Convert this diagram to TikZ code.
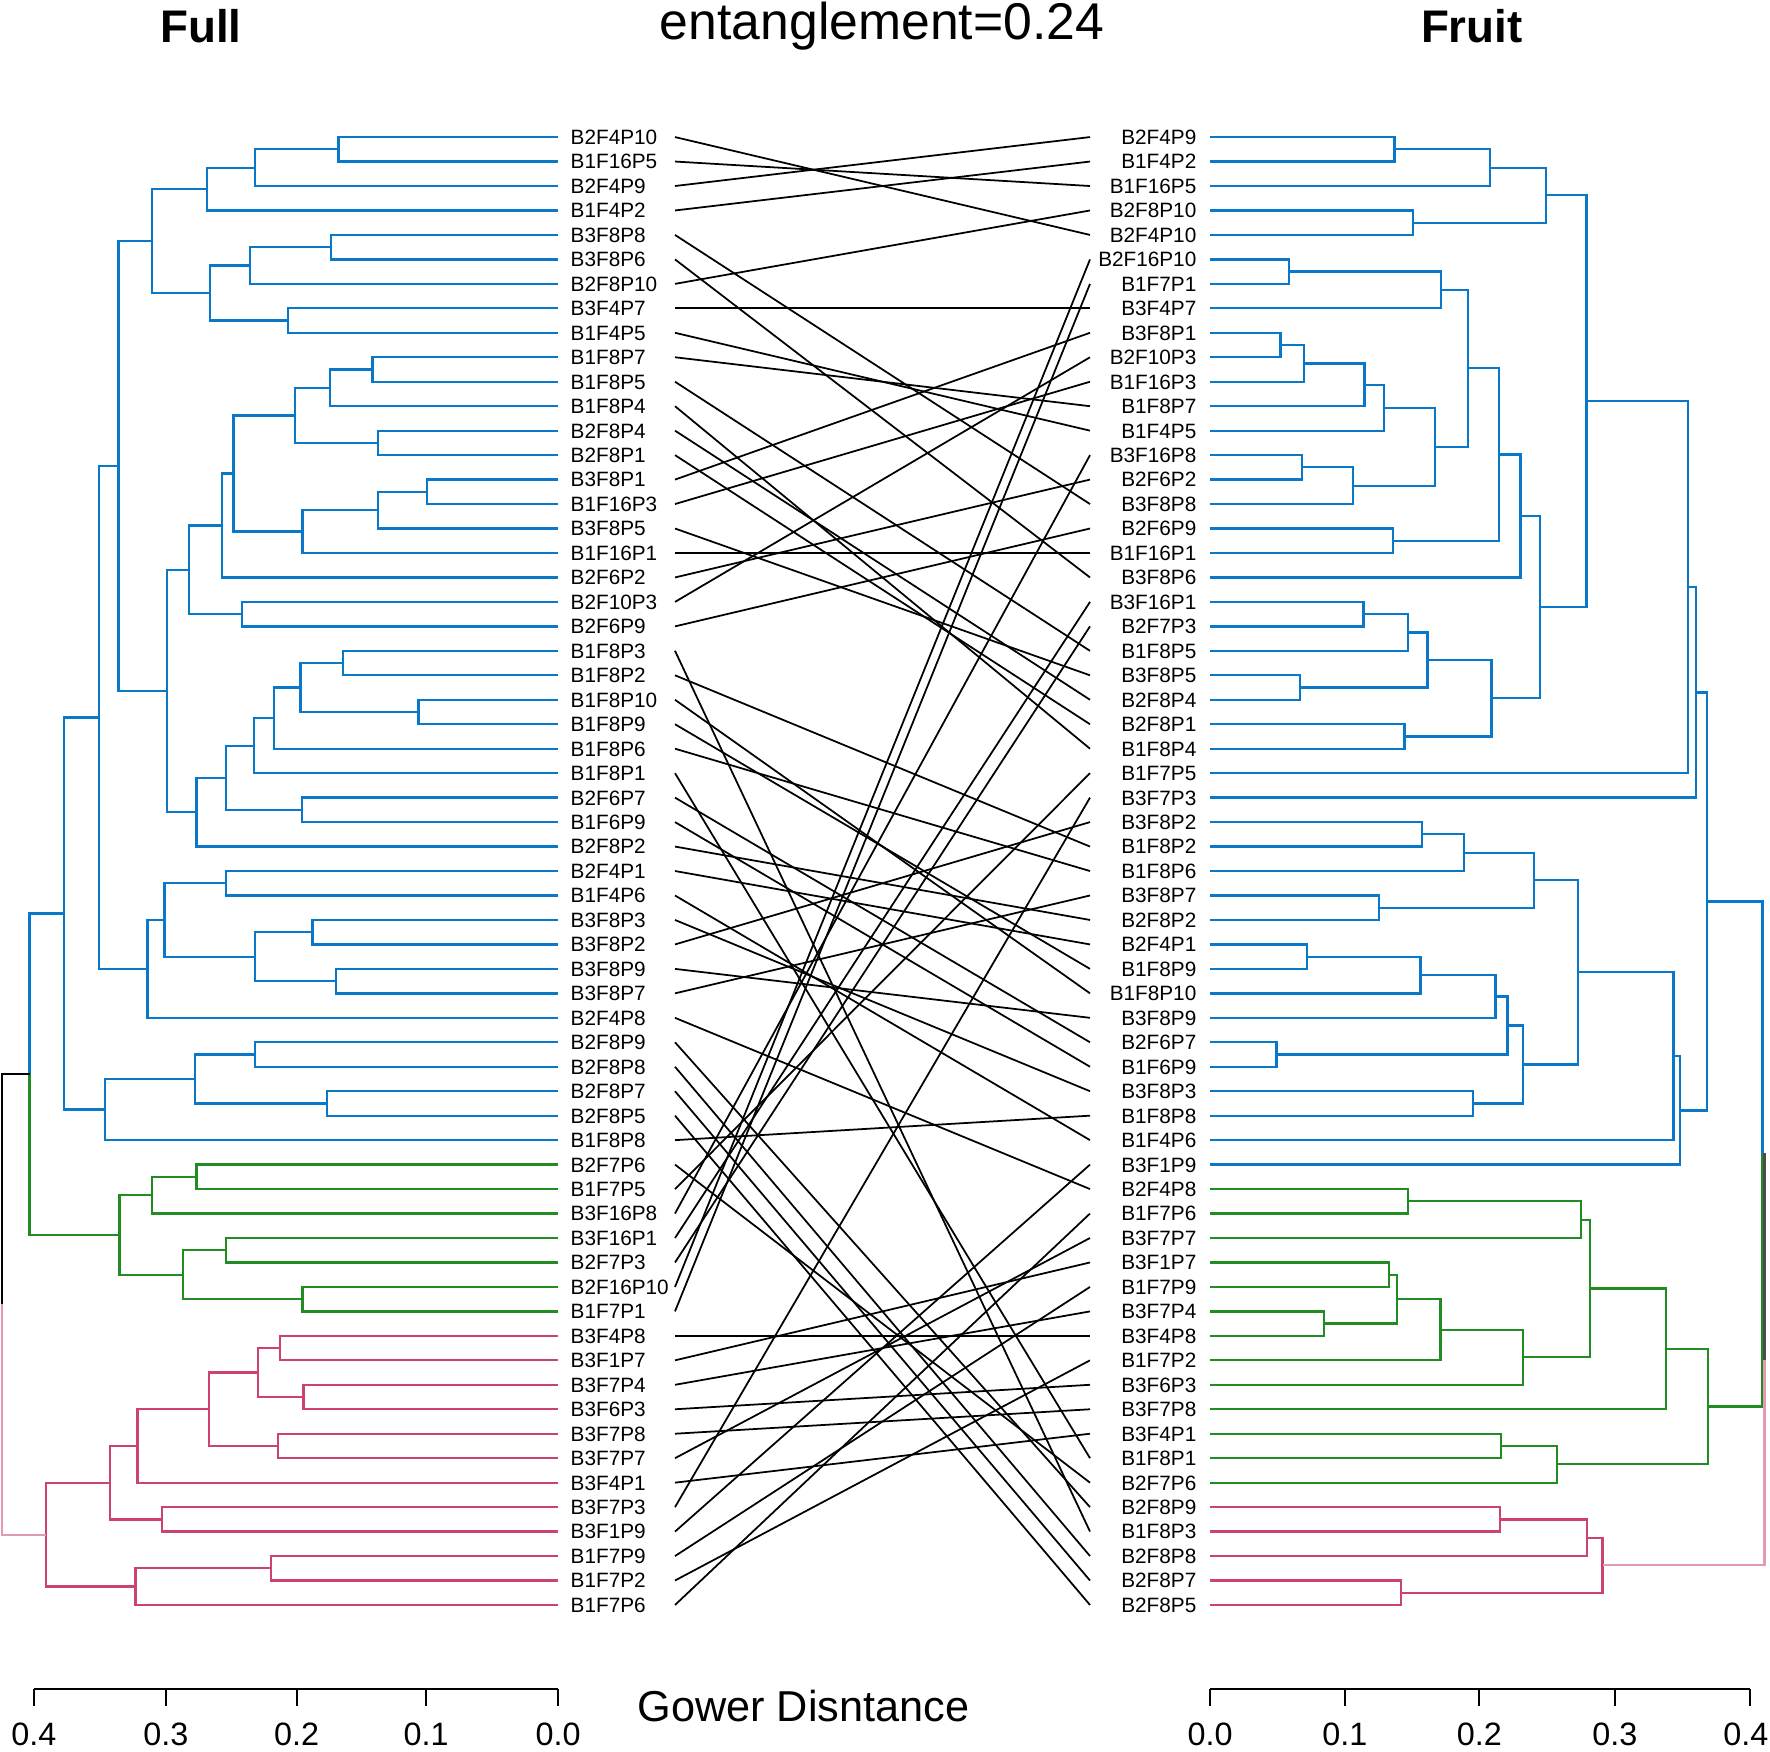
\documentclass[tikz,border=0pt]{standalone}
\usepackage{fontspec}
\setmainfont{Liberation Sans}
\definecolor{dblue}{HTML}{0A78C8}
\definecolor{dgreen}{HTML}{228B22}
\definecolor{dpink}{HTML}{CC446E}
\definecolor{lpink}{HTML}{E39AB0}
\begin{document}
\begin{tikzpicture}[x=0.01cm,y=-0.01cm,
  tree/.style={line width=0.65pt},
  conn/.style={line width=0.5pt,black},
  llab/.style={anchor=west,inner sep=0pt,font=\fontsize{5.9}{7}\selectfont,text height=4.2pt,text depth=0pt},
  rlab/.style={anchor=east,inner sep=0pt,font=\fontsize{5.9}{7}\selectfont,text height=4.2pt,text depth=0pt},
  axis/.style={line width=0.6pt,black},
  ticklab/.style={anchor=base,inner sep=0pt,font=\fontsize{9.2}{11}\selectfont},
  titlelab/.style={anchor=base,inner sep=0pt,font=\fontsize{13}{15}\selectfont\bfseries}]
\useasboundingbox (0,0) rectangle (1770,1752);

% titles
\node[titlelab] (tfull) at (200.9,43) {Full};
\node[titlelab] (tfruit) at (1471.8,43) {Fruit};
\node[anchor=base,inner sep=0pt,font=\fontsize{14.7}{16}\selectfont] (tent) at (882,40) {entanglement=0.24};

\begin{scope}[y=-0.2445cm,yshift=-1.1255cm]
% left labels
\foreach \n [count=\i] in {B2F4P10,B1F16P5,B2F4P9,B1F4P2,B3F8P8,B3F8P6,B2F8P10,B3F4P7,B1F4P5,B1F8P7,B1F8P5,B1F8P4,B2F8P4,B2F8P1,B3F8P1,B1F16P3,B3F8P5,B1F16P1,B2F6P2,B2F10P3,B2F6P9,B1F8P3,B1F8P2,B1F8P10,B1F8P9,B1F8P6,B1F8P1,B2F6P7,B1F6P9,B2F8P2,B2F4P1,B1F4P6,B3F8P3,B3F8P2,B3F8P9,B3F8P7,B2F4P8,B2F8P9,B2F8P8,B2F8P7,B2F8P5,B1F8P8,B2F7P6,B1F7P5,B3F16P8,B3F16P1,B2F7P3,B2F16P10,B1F7P1,B3F4P8,B3F1P7,B3F7P4,B3F6P3,B3F7P8,B3F7P7,B3F4P1,B3F7P3,B3F1P9,B1F7P9,B1F7P2,B1F7P6}
{
  \node[llab] (LT\i) at (570,\i) {\n};
  \coordinate (cl\i) at (675,\i);
  \coordinate (l\i) at (557.5,\i);
}
% right labels
\foreach \n [count=\i] in {B2F4P9,B1F4P2,B1F16P5,B2F8P10,B2F4P10,B2F16P10,B1F7P1,B3F4P7,B3F8P1,B2F10P3,B1F16P3,B1F8P7,B1F4P5,B3F16P8,B2F6P2,B3F8P8,B2F6P9,B1F16P1,B3F8P6,B3F16P1,B2F7P3,B1F8P5,B3F8P5,B2F8P4,B2F8P1,B1F8P4,B1F7P5,B3F7P3,B3F8P2,B1F8P2,B1F8P6,B3F8P7,B2F8P2,B2F4P1,B1F8P9,B1F8P10,B3F8P9,B2F6P7,B1F6P9,B3F8P3,B1F8P8,B1F4P6,B3F1P9,B2F4P8,B1F7P6,B3F7P7,B3F1P7,B1F7P9,B3F7P4,B3F4P8,B1F7P2,B3F6P3,B3F7P8,B3F4P1,B1F8P1,B2F7P6,B2F8P9,B1F8P3,B2F8P8,B2F8P7,B2F8P5}
{
  \node[rlab] (RT\i) at (1197,\i) {\n};
  \coordinate (cr\i) at (1090,\i);
  \coordinate (r\i) at (1209.6,\i);
}

% left internal nodes
\foreach \nm/\x/\y in {A1/338.5/1.5, A2/255.3/2.25, A3/207.2/3.125, A4/331.1/5.5, A5/249.7/6.25,
  A6/287.8/8.5, A7/209.8/7.375, A8/151.7/5.25, A9/372.6/10.5, A10/330/11.25, A11/378.1/13.5,
  A12/294.9/12.375, A13/427.3/15.5, A14/378.1/16.25, A15/302.6/17.125, A16/233.4/14.75,
  A17/222.3/16.875, A18/242.3/20.5, A19/188.7/18.6875, A20/343/22.5, A21/418.4/24.5,
  A22/300.4/23.5, A23/274.1/24.75, A24/254.2/25.875, A25/302.3/28.5, A26/225.7/27.1875,
  A27/196.4/28.59375, A28/166.9/23.640625, A29/118.4/14.4453125, A30/225.7/31.5,
  A31/312.6/33.5, A32/335.9/35.5, A33/255.3/34.5, A34/164.6/33, A35/147.6/35,
  A36/99.1/24.72265625, A37/255.3/38.5, A38/327/40.5, A39/195/39.5, A40/104.7/40.75,
  A41/64/32.736328125, G1/196.4/43.5, G2/151.7/44.25, G3/225.7/46.5, G4/302.6/48.5,
  G5/183.1/47.5, G6/119.5/45.875, BG/29.6/39.3056640625, P1/280.1/50.5, P2/303.4/52.5,
  P3/257.9/51.5, P4/278.2/54.5, P5/209/53, P6/137.6/54.5, P7/161.7/57.5, P8/109.9/56,
  P9/270.8/59.5, P10/135.4/60.25, P11/46.2/58.125, RL/1.8/48.71533203125}
  \coordinate (\nm) at (\x,\y);

% right internal nodes
\foreach \nm/\x/\y in {B1/1394.6/1.5, B2/1489.7/2.25, B3/1413.1/4.5, B4/1546.3/3.375,
  B5/1288.8/6.5, B6/1440.8/7.25, B7/1280.6/9.5, B8/1303.9/10.25, B9/1364.6/11.125,
  B10/1383.9/12.0625, B11/1302.1/14.5, B12/1352.8/15.25, B13/1435.3/13.65625,
  B14/1468.2/10.453125, B15/1392.7/17.5, B16/1499.3/13.9765625, B17/1520.4/16.48828125,
  B18/1363.5/20.5, B19/1408.3/21.25, B20/1299.9/23.5, B21/1427.5/22.375, B22/1404.6/25.5,
  B23/1491.5/23.9375, B24/1540/20.212890625, B25/1586.6/11.7939453125,
  B26/1688.3/19.39697265625, B27/1696.1/23.698486328125, C1/1422/29.5, C2/1463.8/30.25,
  C3/1378.7/32.5, C4/1534.1/31.375, C5/1306.9/34.5, C6/1420.5/35.25, C7/1495.6/36.125,
  C8/1276.6/38.5, C9/1507.4/37.3125, C10/1473/40.5, C11/1523/38.90625, C12/1577.7/35.140625,
  C13/1673.5/38.5703125, C14/1680.2/40.78515625, B28/1707.2/32.2418212890625,
  H1/1408.3/44.5, H2/1581/45.25, H3/1388.7/47.5, H4/1323.9/49.5, H5/1397.2/48.5,
  H6/1440.5/49.75, H7/1523/50.875, H8/1590.3/48.0625, H9/1666.1/50.53125, H10/1500.8/54.5,
  H11/1557/55.25, H12/1708/52.890625, Q1/1500/57.5, Q2/1587/58.25, Q3/1400.9/60.5,
  Q4/1602.5/59.375, BG2/1762.5/42.5662, RR/1764.5/50.9706}
  \coordinate (\nm) at (\x,\y);

% left tree, blue
\foreach \a/\b in {l1/A1,l2/A1,A1/A2,l3/A2,A2/A3,l4/A3,l5/A4,l6/A4,A4/A5,l7/A5,l8/A6,l9/A6,
  A5/A7,A6/A7,A3/A8,A7/A8,l10/A9,l11/A9,A9/A10,l12/A10,l13/A11,l14/A11,A10/A12,A11/A12,
  l15/A13,l16/A13,A13/A14,l17/A14,A14/A15,l18/A15,A12/A16,A15/A16,A16/A17,l19/A17,
  l20/A18,l21/A18,A17/A19,A18/A19,l22/A20,l23/A20,l24/A21,l25/A21,A20/A22,A21/A22,
  A22/A23,l26/A23,A23/A24,l27/A24,l28/A25,l29/A25,A24/A26,A25/A26,A26/A27,l30/A27,
  A19/A28,A27/A28,A8/A29,A28/A29,l31/A30,l32/A30,l33/A31,l34/A31,l35/A32,l36/A32,
  A31/A33,A32/A33,A30/A34,A33/A34,A34/A35,l37/A35,A29/A36,A35/A36,l38/A37,l39/A37,
  l40/A38,l41/A38,A37/A39,A38/A39,A39/A40,l42/A40,A36/A41,A40/A41,A41/BG}
  \draw[tree,dblue] (\a) -| (\b);
% left tree, green
\foreach \a/\b in {l43/G1,l44/G1,G1/G2,l45/G2,l46/G3,l47/G3,l48/G4,l49/G4,G3/G5,G4/G5,
  G2/G6,G5/G6,G6/BG}
  \draw[tree,dgreen] (\a) -| (\b);
% left tree, pink
\foreach \a/\b in {l50/P1,l51/P1,l52/P2,l53/P2,P1/P3,P2/P3,l54/P4,l55/P4,P3/P5,P4/P5,
  P5/P6,l56/P6,l57/P7,l58/P7,P6/P8,P7/P8,l59/P9,l60/P9,P9/P10,l61/P10,P8/P11,P10/P11}
  \draw[tree,dpink] (\a) -| (\b);
\draw[tree,black] (BG) -| (RL);
\draw[tree,lpink] (P11) -| (RL);

% right tree, blue
\foreach \a/\b in {r1/B1,r2/B1,B1/B2,r3/B2,r4/B3,r5/B3,B2/B4,B3/B4,r6/B5,r7/B5,B5/B6,r8/B6,
  r9/B7,r10/B7,B7/B8,r11/B8,B8/B9,r12/B9,B9/B10,r13/B10,r14/B11,r15/B11,B11/B12,r16/B12,
  B10/B13,B12/B13,B6/B14,B13/B14,r17/B15,r18/B15,B14/B16,B15/B16,B16/B17,r19/B17,
  r20/B18,r21/B18,B18/B19,r22/B19,r23/B20,r24/B20,B19/B21,B20/B21,r25/B22,r26/B22,
  B21/B23,B22/B23,B17/B24,B23/B24,B4/B25,B24/B25,B25/B26,r27/B26,B26/B27,r28/B27,
  r29/C1,r30/C1,C1/C2,r31/C2,r32/C3,r33/C3,C2/C4,C3/C4,r34/C5,r35/C5,C5/C6,r36/C6,
  C6/C7,r37/C7,r38/C8,r39/C8,C7/C9,C8/C9,r40/C10,r41/C10,C9/C11,C10/C11,C4/C12,C11/C12,
  C12/C13,r42/C13,C13/C14,r43/C14,B27/B28,C14/B28,B28/BG2}
  \draw[tree,dblue] (\a) -| (\b);
% right tree, green
\foreach \a/\b in {r44/H1,r45/H1,H1/H2,r46/H2,r47/H3,r48/H3,r49/H4,r50/H4,H3/H5,H4/H5,
  H5/H6,r51/H6,H6/H7,r52/H7,H2/H8,H7/H8,H8/H9,r53/H9,r54/H10,r55/H10,H10/H11,r56/H11,
  H9/H12,H11/H12,H12/BG2}
  \draw[tree,dgreen] (\a) -| (\b);
% right tree, pink
\foreach \a/\b in {r57/Q1,r58/Q1,Q1/Q2,r59/Q2,r60/Q3,r61/Q3,Q2/Q4,Q3/Q4}
  \draw[tree,dpink] (\a) -| (\b);
\draw[tree,black!70] (BG2) -| (RR);
\draw[tree,lpink] (Q4) -| (RR);
\end{scope}

% connectors
\foreach \i/\j in {1/5,2/3,3/1,4/2,5/16,6/19,7/4,8/8,9/13,10/12,11/22,12/26,13/24,14/25,
  15/9,16/11,17/23,18/18,19/15,20/10,21/17,22/58,23/30,24/36,25/35,26/31,27/55,28/38,
  29/39,30/33,31/34,32/42,33/40,34/29,35/37,36/32,37/44,38/57,39/59,40/60,41/61,42/41,
  43/56,44/27,45/14,46/20,47/21,48/6,49/7,50/50,51/47,52/49,53/52,54/53,55/46,56/54,
  57/28,58/43,59/48,60/51,61/45}
  \draw[conn] (cl\i) -- (cr\j);

% axes
\draw[axis] (33.8,1689) -- (558,1689);
\foreach \x/\t in {33.8/0.4,165.8/0.3,296.6/0.2,426/0.1,558/0.0}
  {\draw[axis] (\x,1689) -- (\x,1706);
   \node[ticklab] at (\x,1745) {\t};}
\draw[axis] (1210.2,1689) -- (1750,1689);
\foreach \x/\t in {1210.2/0.0,1344.8/0.1,1479.4/0.2,1614.9/0.3}
  {\draw[axis] (\x,1689) -- (\x,1706);
   \node[ticklab] at (\x,1745) {\t};}
\draw[axis] (1750,1689) -- (1750,1706);
\node[ticklab,anchor=base east] at (1769,1745) {0.4};
\node[anchor=base,inner sep=0pt,font=\fontsize{12.3}{14}\selectfont] (gower) at (803.5,1721) {Gower Disntance};
\end{tikzpicture}
\end{document}
